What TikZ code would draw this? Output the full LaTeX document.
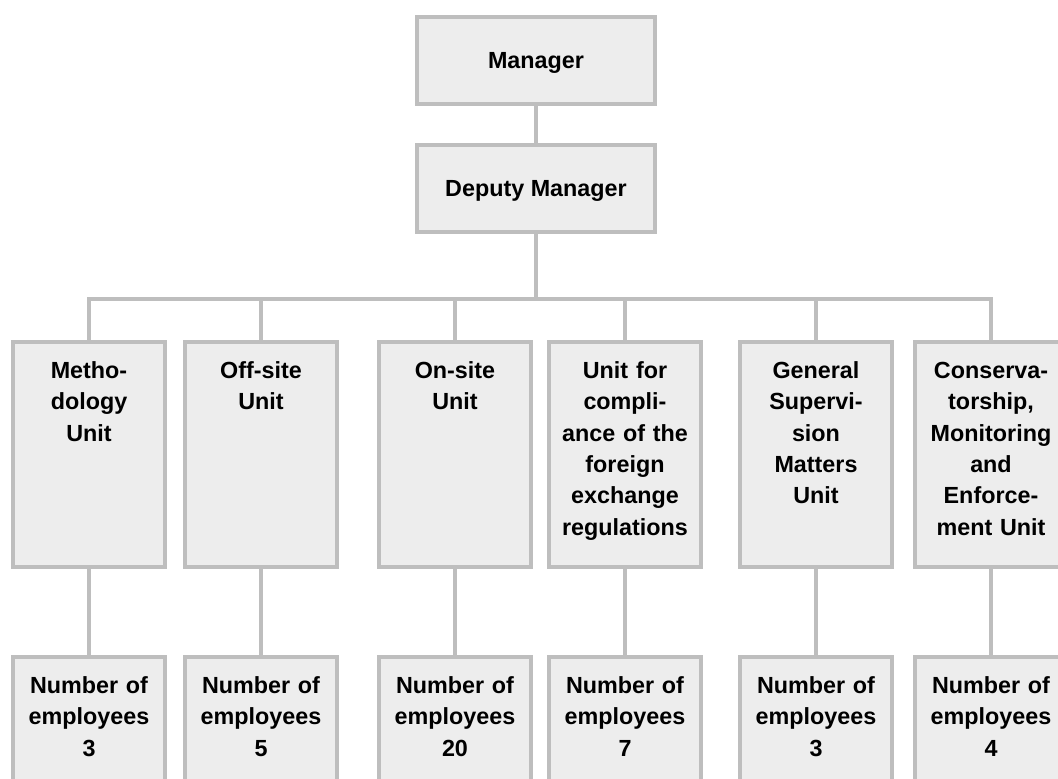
\documentclass[tikz,border=0pt]{standalone}
\usepackage{fontspec}
\setmainfont{Liberation Sans}
\usepackage{tikz}
\usetikzlibrary{positioning}
\definecolor{linegray}{RGB}{190,190,190}
\definecolor{boxfill}{RGB}{237,237,237}

\begin{document}
\begin{tikzpicture}[line width=2.6pt,
  head/.style = {draw=linegray, fill=boxfill, font=\fontsize{14pt}{18.8pt}\selectfont\bfseries,
    minimum width=142.6pt, minimum height=52pt, text height=10pt, text depth=0pt},
  dept/.style = {draw=linegray, fill=boxfill, font=\fontsize{14pt}{18.8pt}\selectfont\bfseries,
    text width=91pt, align=center, inner xsep=0pt, inner ysep=0pt,
    text height=21.7pt, text depth=113.1pt},
  staff/.style = {dept, text depth=58.3pt},
  link/.style = {draw=linegray}]
\useasboundingbox (-321.6pt,36.3pt) rectangle (313.2pt,-430.5pt);
\node[head] (mgr) {Manager};
\node[head] (dep) [below=22.2pt of mgr] {Deputy Manager};
\coordinate[below=39pt of dep] (bus);
\node[dept] (u1) [below=24.6pt of bus, xshift=-268.2pt] {Metho-\\dology\\Unit};
\node[dept] (u2) [right=9.6pt of u1] {Off-site\\Unit};
\node[dept] (u3) [right=22.8pt of u2] {On-site\\Unit};
\node[dept] (u4) [right=8.4pt of u3] {Unit for\\compli-\\ance of the\\foreign\\exchange\\regulations};
\node[dept] (u5) [right=21pt of u4] {General\\Supervi-\\sion\\Matters\\Unit};
\node[dept] (u6) [right=11.4pt of u5] {Conserva-\\torship,\\Monitoring\\and\\Enforce-\\ment Unit};
\node[staff] (b1) [below=51.6pt of u1] {Number of\\employees\\3};
\node[staff] (b2) [below=51.6pt of u2] {Number of\\employees\\5};
\node[staff] (b3) [below=51.6pt of u3] {Number of\\employees\\20};
\node[staff] (b4) [below=51.6pt of u4] {Number of\\employees\\7};
\node[staff] (b5) [below=51.6pt of u5] {Number of\\employees\\3};
\node[staff] (b6) [below=51.6pt of u6] {Number of\\employees\\4};
\draw[link] (mgr) -- (dep);
\draw[link] (dep) -- (bus);
\draw[link] (u1) |- (bus) -| (u6);
\foreach \u in {u2,u3,u4,u5}
  \draw[link] (\u) -- (\u |- bus);
\foreach \i in {1,...,6}
  \draw[link] (u\i) -- (b\i);
\end{tikzpicture}
\end{document}
